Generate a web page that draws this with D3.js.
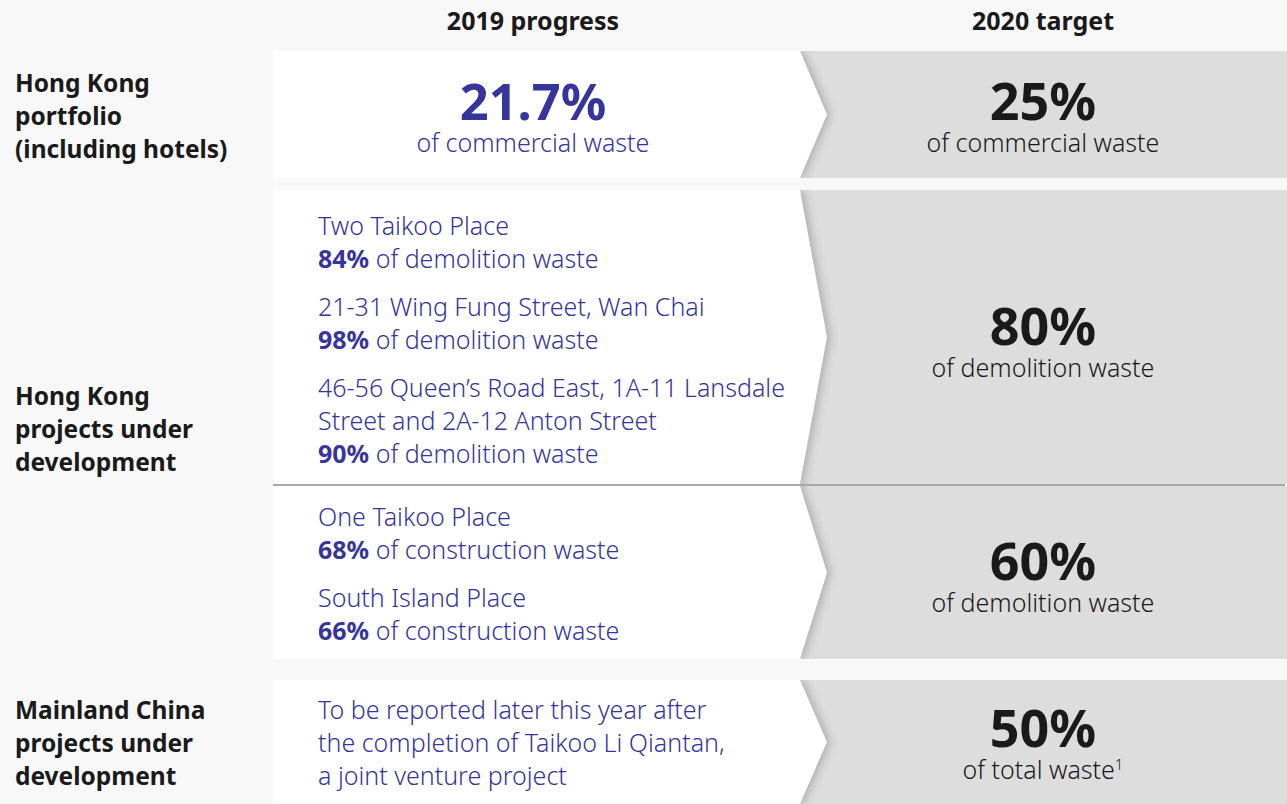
<!DOCTYPE html>
<html><head><meta charset="utf-8">
<script src="https://cdn.jsdelivr.net/npm/d3@7"></script>
<style>
html,body{margin:0;padding:0;background:#f8f8f8;}
svg{display:block;font-family:"Noto Sans",sans-serif;}
</style></head>
<body>
<svg id="chart" width="1287" height="804"></svg>
<script>
// ---- data ----
const columnHeaders = ["2019 progress", "2020 target"];
const rowLabels = [
  ["Hong Kong", "portfolio", "(including hotels)"],
  ["Hong Kong", "projects under", "development"],
  ["Mainland China", "projects under", "development"]
];
const headlineProgress = "21.7%";
const headlineProgressUnit = "of commercial waste";
const projectNames = [
  ["Two Taikoo Place"],
  ["21-31 Wing Fung Street, Wan Chai"],
  ["46-56 Queen\u2019s Road East, 1A-11 Lansdale", "Street and 2A-12 Anton Street"],
  ["One Taikoo Place"],
  ["South Island Place"]
];
const projectPercents = ["84%", "98%", "90%", "68%", "66%"];
const projectWasteTypes = ["of demolition waste", "of demolition waste", "of demolition waste", "of construction waste", "of construction waste"];
const projectBand = [0, 0, 0, 1, 1];
const mainlandNote = ["To be reported later this year after", "the completion of Taikoo Li Qiantan,", "a joint venture project"];
const targetValues = ["25%", "80%", "60%", "50%"];
const targetUnits = ["of commercial waste", "of demolition waste", "of demolition waste", "of total waste"];
const targetNotes = ["", "", "", "1"];

// ---- layout ----
const W = 1287, H = 804;
const svg = d3.select("#chart");
const navy = "#35359b", ink = "#1a1a1a";
const bands = [[51, 178], [190, 484], [486, 659], [680, 804]];
const x = d3.scaleLinear().domain([0, 1, 2]).range([273, 800, 1287]);
const tip = 27;
const bodySize = 25, bigSize = 52;

const defs = svg.append("defs");
const f = defs.append("filter").attr("id", "sh").attr("x", "-10%").attr("y", "-10%").attr("width", "130%").attr("height", "120%");
f.append("feGaussianBlur").attr("stdDeviation", 5);
defs.append("clipPath").attr("id", "grayclip").append("rect")
  .attr("x", x(1)).attr("y", 0).attr("width", W - x(1)).attr("height", H);

const chevron = (y0, y1) => {
  const m = (y0 + y1) / 2;
  return [[x(0), y0], [x(1), y0], [x(1) + tip, m], [x(1), y1], [x(0), y1]];
};
const line = d3.line();

bands.forEach(([y0, y1]) => {
  svg.append("rect").attr("x", x(1)).attr("y", y0).attr("width", x(2) - x(1)).attr("height", y1 - y0).attr("fill", "#dddddd");
});
const shadowG = svg.append("g").attr("clip-path", "url(#grayclip)");
bands.forEach(([y0, y1]) => {
  shadowG.append("path").attr("d", line(chevron(y0, y1).map(p => [p[0] + 3, p[1]])) + "Z")
    .attr("fill", "#000").attr("opacity", 0.22).attr("filter", "url(#sh)");
});
[[178, 190], [659, 680], [0, 51]].forEach(([a, b]) => {
  svg.append("rect").attr("x", x(1)).attr("y", a).attr("width", W - x(1)).attr("height", b - a).attr("fill", "#f8f8f8");
});
bands.forEach(([y0, y1]) => {
  svg.append("path").attr("d", line(chevron(y0, y1)) + "Z").attr("fill", "#ffffff");
});
svg.append("line").attr("x1", x(0)).attr("x2", W - 2).attr("y1", 485).attr("y2", 485)
  .attr("stroke", "#a9a9a9").attr("stroke-width", 2);

// headers
const colCenters = [533, 1043];
columnHeaders.forEach((h, i) => {
  svg.append("text").attr("x", colCenters[i]).attr("y", 30).attr("text-anchor", "middle")
    .attr("font-size", 25).attr("font-weight", 700).attr("fill", ink).text(h);
});

// row labels
const labelBaselines = [92, 405, 719];
rowLabels.forEach((lines, i) => {
  const t = svg.append("text").attr("x", 15).attr("y", labelBaselines[i]).attr("font-size", 24.5).attr("font-weight", 700).attr("fill", ink);
  lines.forEach((l, j) => t.append("tspan").attr("x", 15).attr("dy", j ? 33 : 0).text(l));
});

// headline progress (value + unit in one text block)
const hp = svg.append("text").attr("x", colCenters[0]).attr("y", 120).attr("text-anchor", "middle").attr("fill", navy);
hp.append("tspan").attr("x", colCenters[0]).attr("font-size", bigSize - 1.5).attr("font-weight", 700).text(headlineProgress);
hp.append("tspan").attr("x", colCenters[0]).attr("dy", 32).attr("font-size", bodySize).attr("font-weight", 300).text(headlineProgressUnit);

// projects
const px = 318, lh = 33, gap = 15;
let yPos = {0: 235, 1: 526};
projectNames.forEach((names, i) => {
  const b = projectBand[i];
  let y = yPos[b];
  names.forEach(n => {
    svg.append("text").attr("x", px).attr("y", y).attr("font-size", bodySize).attr("font-weight", 300).attr("fill", navy).text(n);
    y += lh;
  });
  const t = svg.append("text").attr("x", px).attr("y", y).attr("font-size", bodySize).attr("font-weight", 300).attr("fill", navy);
  t.append("tspan").attr("font-weight", 700).text(projectPercents[i]);
  t.append("tspan").text(" " + projectWasteTypes[i]);
  yPos[b] = y + lh + gap;
});

mainlandNote.forEach((l, j) => {
  svg.append("text").attr("x", px).attr("y", 719 + j * lh).attr("font-size", bodySize).attr("font-weight", 300).attr("fill", navy).text(l);
});

// targets
const targetBaselines = [120, 345, 580, 747];
targetValues.forEach((v, i) => {
  const t = svg.append("text").attr("x", colCenters[1]).attr("y", targetBaselines[i]).attr("text-anchor", "middle").attr("fill", ink);
  t.append("tspan").attr("x", colCenters[1]).attr("font-size", bigSize).attr("font-weight", 700).text(v);
  t.append("tspan").attr("x", colCenters[1]).attr("dy", 32).attr("font-size", bodySize).attr("font-weight", 300)
    .text(targetUnits[i] + (targetNotes[i] ? "" : ""));
  if (targetNotes[i]) t.append("tspan").attr("font-size", 15).attr("font-weight", 300).attr("dy", -9).text(targetNotes[i]);
});
</script>
</body></html>
